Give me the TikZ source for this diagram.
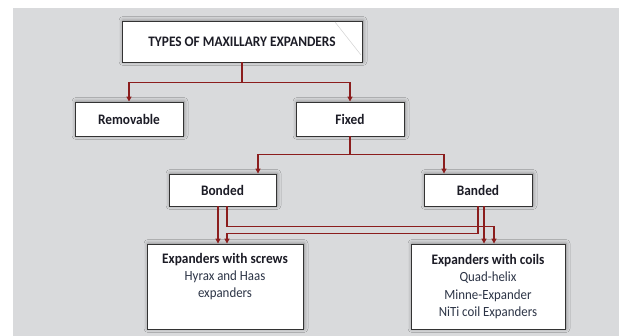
\documentclass[tikz,border=0pt]{standalone}
\usepackage{fontspec}
\setmainfont{Carlito}[FakeStretch=0.92]
\usetikzlibrary{arrows.meta,shadows.blur}
\definecolor{bg}{HTML}{D9DADC}
\definecolor{conn}{HTML}{8B1D1D}
\definecolor{txt}{HTML}{1C1C26}
\definecolor{subt}{HTML}{2C3446}
\newcommand{\subline}[1]{{\color{subt}\fontsize{14}{17.3}\selectfont\mdseries #1}}
\begin{document}
\begin{tikzpicture}[x=1pt,y=-1pt,
  box/.style={draw=black!80, line width=0.9pt, fill=white, inner sep=0pt,
    font=\fontsize{14.5}{17.3}\selectfont\bfseries, text=txt, align=center,
    blur shadow={shadow xshift=1pt, shadow yshift=0.5pt, shadow blur radius=4pt, shadow opacity=40}},
  arr/.style={draw=conn, line width=1.2pt, -{Triangle[width=5pt,length=5pt]}}]
\useasboundingbox (0,0) rectangle (619,336);
\fill[white] (0,0) rectangle (619,336);
\fill[bg] (13,8) rectangle (619,336);

\node[box, minimum width=240, minimum height=41] (title) at (242,41.5) {TYPES OF MAXILLARY EXPANDERS};
\draw[gray!35, line width=0.5pt] (335,22) -- (361,55);
\node[box, minimum width=108, minimum height=34] (rem) at (129,119) {Removable};
\node[box, minimum width=108, minimum height=34] (fixed) at (350,119) {Fixed};
\node[box, minimum width=107, minimum height=32] (bonded) at (222.5,190) {Bonded};
\node[box, minimum width=108, minimum height=32] (banded) at (478,190) {Banded};
\node[box, minimum width=156, minimum height=85] (screws) at (225,286.5)
  {Expanders with screws\\ \subline{Hyrax and Haas}\\ \subline{expanders}\\ \subline{\strut}};
\node[box, minimum width=154, minimum height=85] (coils) at (488,286.5)
  {Expanders with coils\\ \subline{Quad-helix}\\ \subline{Minne-Expander}\\ \subline{NiTi coil Expanders}};

% level 1
\draw[arr] (title.south) -- ++(0,20) -| (rem.north);
\draw[arr] (title.south) -- ++(0,20) -| (fixed.north);
% level 2
\coordinate (bdn) at ([xshift=35.5pt]bonded.north);
\coordinate (ban) at ([xshift=-34pt]banded.north);
\draw[arr] (fixed.south) -- ++(0,18) -| (bdn);
\draw[arr] (fixed.south) -- ++(0,18) -| (ban);
% level 3
\coordinate (b1) at ([xshift=-4.5pt]bonded.south);
\coordinate (b2) at ([xshift=4.5pt]bonded.south);
\coordinate (n1) at ([xshift=0pt]banded.south);
\coordinate (n2) at ([xshift=6pt]banded.south);
\coordinate (s2) at ([xshift=2pt]screws.north);
\coordinate (c2) at ([xshift=6pt]coils.north);
\draw[arr] (b1) -- (b1 |- screws.north);
\draw[arr] (b2) -- ++(0,20) -| (c2);
\draw[arr] (n2) -- (n2 |- coils.north);
\draw[arr] (n1) -- ++(0,27) -| (s2);
\end{tikzpicture}
\end{document}
